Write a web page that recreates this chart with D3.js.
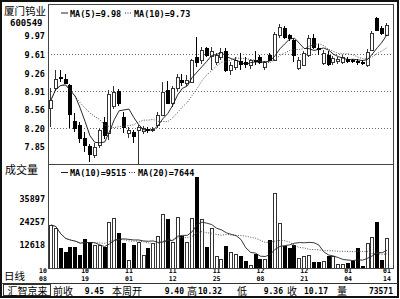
<!DOCTYPE html>
<html>
<head>
<meta charset="utf-8">
<script src="https://cdn.jsdelivr.net/npm/d3@7"></script>
<style>
  html, body { margin: 0; padding: 0; background: #fff; }
  svg { display: block; }
  .num { font-family: "DejaVu Sans Mono", monospace; font-weight: bold; }
  .cjk { font-family: "Noto Sans CJK SC", sans-serif; }
</style>
</head>
<body>
<div id="chart"></div>
<script>
const stockName = "厦门钨业";
const stockCode = "600549";
const sourceName = "汇智京来";

const dateTicks = [0, 7, 16, 25, 34, 43, 52, 61, 69];
const dateLabels = ["10/08", "10/19", "11/01", "11/12", "11/25", "12/08", "12/21", "01/04", "01/14"];

const opens = [8.58, 8.95, 9.17, 9.13, 9.02, 8.33, 8.25, 8.00, 7.84, 7.68,
  7.86, 8.30, 8.10, 8.62, 8.90, 8.41, 8.10, 8.12, 8.15, 8.14,
  8.18, 8.17, 8.25, 8.45, 8.92, 8.68, 8.95, 9.12, 9.05, 9.08,
  9.55, 9.50, 9.72, 9.57, 9.46, 9.56, 9.67, 9.30, 9.37, 9.47,
  9.45, 9.40, 9.50, 9.55, 9.36, 9.59, 9.50, 9.97, 10.11, 9.97,
  9.88, 9.34, 9.40, 9.59, 9.92, 9.72, 9.44, 9.60, 9.45, 9.47,
  9.46, 9.52, 9.50, 9.48, 9.46, 9.40, 9.69, 10.30, 10.11, 9.97];
const highs = [8.96, 9.30, 9.30, 9.23, 9.04, 8.48, 8.31, 8.12, 7.88, 7.90,
  8.18, 8.40, 8.92, 9.00, 8.93, 8.50, 8.22, 8.16, 8.25, 8.23,
  8.22, 8.21, 8.50, 9.08, 9.10, 9.00, 9.22, 9.22, 9.20, 9.52,
  9.94, 9.74, 9.75, 9.75, 9.62, 9.72, 9.72, 9.46, 9.55, 9.62,
  9.55, 9.52, 9.66, 9.60, 9.48, 9.62, 10.04, 10.18, 10.14, 10.00,
  9.90, 9.55, 9.66, 9.97, 10.00, 9.80, 9.68, 9.66, 9.58, 9.55,
  9.60, 9.55, 9.52, 9.52, 9.50, 9.70, 10.05, 10.32, 10.14, 10.20];
const lows = [8.21, 8.90, 9.08, 9.04, 8.19, 8.12, 7.90, 7.74, 7.55, 7.61,
  7.80, 7.98, 7.96, 8.55, 8.62, 8.10, 8.00, 7.90, 7.40, 8.08,
  8.10, 8.12, 8.20, 8.42, 8.65, 8.60, 8.90, 9.00, 9.00, 9.05,
  9.37, 9.42, 9.55, 9.30, 9.40, 9.50, 9.26, 9.21, 9.30, 9.30,
  9.35, 9.33, 9.40, 9.42, 9.30, 9.47, 9.48, 9.92, 9.90, 9.85,
  9.45, 9.30, 9.38, 9.55, 9.70, 9.60, 9.40, 9.38, 9.40, 9.42,
  9.42, 9.44, 9.44, 9.40, 9.40, 9.36, 9.66, 10.05, 9.98, 9.95];
const closes = [8.73, 9.14, 9.15, 9.05, 8.47, 8.19, 8.00, 7.87, 7.70, 7.83,
  8.15, 8.06, 8.84, 8.89, 8.68, 8.22, 8.15, 8.03, 8.21, 8.19,
  8.17, 8.18, 8.45, 8.88, 8.68, 8.95, 9.17, 9.08, 9.11, 9.50,
  9.46, 9.69, 9.59, 9.67, 9.59, 9.65, 9.30, 9.40, 9.50, 9.42,
  9.42, 9.49, 9.47, 9.46, 9.46, 9.50, 9.99, 10.13, 9.94, 9.92,
  9.59, 9.50, 9.63, 9.92, 9.75, 9.70, 9.63, 9.42, 9.53, 9.52,
  9.55, 9.48, 9.47, 9.47, 9.45, 9.65, 10.01, 10.07, 10.01, 10.17];
const volumes = [22300, 20700, 10500, 8500, 11300, 11300, 7100, 15200, 13800, 12100,
  12100, 11300, 23900, 25700, 18400, 13000, 4600, 12100, 13800, 7100,
  10500, 13000, 16500, 27700, 25100, 13500, 26500, 16700, 13800, 25700,
  46700, 25100, 11300, 20600, 6700, 5100, 11800, 8500, 7400, 6700,
  4000, 2000, 7600, 5100, 5100, 14700, 38300, 23100, 11800, 10500,
  12200, 5400, 6700, 6900, 3400, 3400, 3800, 6830, 6700, 2400,
  2400, 2900, 4000, 10579, 1700, 13000, 16400, 23900, 4600, 15671];

// first day of the current week, for the bottom info bar
const weekStart = 65;

const priceTicks = [9.97, 9.61, 9.26, 8.91, 8.56, 8.20, 7.85];
const priceGrid = [9.61, 8.91, 8.20];
const volumeTicks = [35897, 24257, 12618];

function movingAverage(values, period) {
  return values.map((d, i) => d3.mean(values.slice(Math.max(0, i - period + 1), i + 1)));
}

class KLineChart {
  constructor(selector) {
    this.width = 400;
    this.height = 299;
    this.plot = { left: 48, right: 393, top: 5, split: 164, bottom: 268 };

    this.svg = d3
      .select(selector)
      .append("svg")
      .attr("width", this.width)
      .attr("height", this.height)
      .attr("viewBox", `0 0 ${this.width} ${this.height}`);

    this.x = d3.scaleLinear().domain([0, closes.length - 1]).range([51, 387]);
    this.y = d3.scaleLinear().domain([8.2, 9.61]).range([127.6, 54]);
    this.vy = d3.scaleLinear().domain([0, 35897]).range([269, 198.1]);

    this.data = closes.map((c, i) => ({
      i,
      o: opens[i],
      h: highs[i],
      l: lows[i],
      c,
      v: volumes[i],
    }));

    this.svg.append("rect").attr("width", this.width).attr("height", this.height).attr("fill", "#fff");

    let p = this.plot;
    let defs = this.svg.append("defs");
    defs.append("clipPath").attr("id", "price-clip").append("rect")
      .attr("x", p.left).attr("y", p.top).attr("width", p.right - p.left).attr("height", p.split - p.top);
    defs.append("clipPath").attr("id", "vol-clip").append("rect")
      .attr("x", p.left).attr("y", p.split).attr("width", p.right - p.left).attr("height", p.bottom - p.split);
  }

  render() {
    this.renderGrid();
    this.renderCandles();
    this.renderVolume();
    this.renderAxes();
    this.renderFrame();
    this.renderLegends();
    this.renderInfoBar();
  }

  renderGrid() {
    let p = this.plot;
    this.svg
      .append("g")
      .selectAll("line")
      .data(priceGrid)
      .join("line")
      .attr("x1", p.left)
      .attr("x2", p.right)
      .attr("y1", (d) => Math.round(this.y(d)) + 0.5)
      .attr("y2", (d) => Math.round(this.y(d)) + 0.5)
      .attr("stroke", "#666")
      .attr("stroke-dasharray", "1,2");
  }

  drawBars(g, data, top, bottom) {
    let x = this.x;
    let isUp = (d) => d.c >= d.o;
    g.selectAll("rect")
      .data(data)
      .join("rect")
      .attr("x", (d) => Math.round(x(d.i)) - 1.5)
      .attr("y", (d) => Math.round(top(d)) + 0.5)
      .attr("width", 3)
      .attr("height", (d) => Math.max(1, Math.round(bottom(d)) - Math.round(top(d))))
      .attr("fill", (d) => (isUp(d) ? "#fff" : "#000"))
      .attr("stroke", (d) => (isUp(d) ? "#333" : "#000"));
  }

  renderCandles() {
    let x = this.x;
    let y = this.y;
    let g = this.svg.append("g").attr("clip-path", "url(#price-clip)");
    let crisp = g.append("g").attr("shape-rendering", "crispEdges");

    crisp
      .selectAll("line")
      .data(this.data)
      .join("line")
      .attr("x1", (d) => Math.round(x(d.i)) - 0.5)
      .attr("x2", (d) => Math.round(x(d.i)) - 0.5)
      .attr("y1", (d) => y(d.h))
      .attr("y2", (d) => y(d.l))
      .attr("stroke", (d) => (d.c >= d.o ? "#333" : "#000"));

    this.drawBars(
      crisp.append("g"),
      this.data,
      (d) => y(Math.max(d.o, d.c)),
      (d) => y(Math.min(d.o, d.c))
    );

    let ma5 = movingAverage(closes, 5);
    let ma10 = movingAverage(closes, 10);
    let line = d3.line().x((d, i) => x(i)).y((d) => y(d));

    g.append("path").attr("d", line(ma10)).attr("fill", "none")
      .attr("stroke", "#555").attr("stroke-dasharray", "1,1.5");
    g.append("path").attr("d", line(ma5)).attr("fill", "none")
      .attr("stroke", "#111").attr("stroke-width", 0.9);

    this.ma5 = ma5;
    this.ma10 = ma10;
  }

  renderVolume() {
    let x = this.x;
    let vy = this.vy;
    let p = this.plot;
    let g = this.svg.append("g").attr("clip-path", "url(#vol-clip)");

    this.drawBars(
      g.append("g").attr("shape-rendering", "crispEdges"),
      this.data,
      (d) => vy(d.v),
      () => p.bottom
    );

    let vma10 = movingAverage(volumes, 10);
    let vma20 = movingAverage(volumes, 20);
    let line = d3.line().x((d, i) => x(i)).y((d) => vy(d));

    g.append("path").attr("d", line(vma20)).attr("fill", "none")
      .attr("stroke", "#555").attr("stroke-dasharray", "1,1.5");
    g.append("path").attr("d", line(vma10)).attr("fill", "none")
      .attr("stroke", "#222").attr("stroke-width", 0.9);

    this.vma10 = vma10;
    this.vma20 = vma20;
  }

  styleAxis(axis) {
    axis.attr("font-family", null).attr("font-size", null);
    axis.select(".domain").remove();
    axis.selectAll("text").attr("class", "num").style("font-size", "8.5px").attr("fill", "#000");
  }

  renderAxes() {
    let priceAxis = this.svg
      .append("g")
      .attr("transform", "translate(45,1)")
      .call(d3.axisLeft(this.y).tickValues(priceTicks).tickSize(0).tickPadding(0).tickFormat(d3.format(".2f")));
    this.styleAxis(priceAxis);

    let volAxis = this.svg
      .append("g")
      .attr("transform", "translate(45,1)")
      .call(d3.axisLeft(this.vy).tickValues(volumeTicks).tickSize(0).tickPadding(0).tickFormat((d) => d));
    this.styleAxis(volAxis);

    // two-line date labels under the volume panel (month above, day below)
    let labelX = (d, i) => this.x(d) - (i === 0 ? 8 : 0);
    let dates = this.svg.append("g").attr("class", "num").style("font-size", "6.5px").attr("text-anchor", "middle");
    dates.selectAll("text.month").data(dateTicks).join("text").attr("class", "month")
      .attr("x", labelX).attr("y", 273).text((d, i) => dateLabels[i].split("/")[0]);
    dates.selectAll("text.day").data(dateTicks).join("text").attr("class", "day")
      .attr("x", labelX).attr("y", 281).text((d, i) => dateLabels[i].split("/")[1]);

    this.svg.append("text").attr("class", "cjk").style("font-size", "10.5px")
      .attr("x", 4).attr("y", 279.5).text("日线");
    this.svg.append("text").attr("class", "cjk").style("font-size", "10.5px")
      .attr("x", 4).attr("y", 14.5).text(stockName);
    this.svg.append("text").attr("class", "num").style("font-size", "9px")
      .attr("x", 10).attr("y", 25.5).text(stockCode);
    this.svg.append("text").attr("class", "cjk").style("font-size", "11px")
      .attr("x", 5).attr("y", 174).text("成交量");
  }

  renderFrame() {
    let p = this.plot;
    let frame = this.svg.append("g").attr("fill", "none").attr("shape-rendering", "crispEdges");
    frame.append("rect").attr("x", 1).attr("y", 1).attr("width", 397).attr("height", 296)
      .attr("stroke", "#111").attr("stroke-width", 2);
    frame.append("rect").attr("x", p.left + 0.5).attr("y", p.top - 0.5)
      .attr("width", p.right - p.left).attr("height", p.bottom - p.top + 0.5)
      .attr("stroke", "#444");
    frame.append("line").attr("x1", p.left).attr("x2", p.right)
      .attr("y1", p.split + 0.5).attr("y2", p.split + 0.5).attr("stroke", "#444");
    frame.append("line").attr("x1", 1).attr("x2", 398).attr("y1", 283.5).attr("y2", 283.5).attr("stroke", "#333");
    frame.append("rect").attr("x", 3.5).attr("y", 284.5).attr("width", 47).attr("height", 11).attr("stroke", "#333");
  }

  legend(y, items) {
    let g = this.svg.append("g");
    items.forEach((item) => {
      g.append("line")
        .attr("x1", item.x - 9).attr("x2", item.x - 2)
        .attr("y1", y - 3.5).attr("y2", y - 3.5)
        .attr("stroke", "#222")
        .attr("stroke-dasharray", item.dotted ? "1,1.5" : null);
      g.append("text").attr("class", "num").style("font-size", "8.5px")
        .attr("x", item.x).attr("y", y).text(item.text);
    });
  }

  renderLegends() {
    let last = closes.length - 1;
    this.legend(16.5, [
      { x: 70, text: `MA(5)=${this.ma5[last].toFixed(2)}`, dotted: false },
      { x: 134, text: `MA(10)=${this.ma10[last].toFixed(2)}`, dotted: true },
    ]);
    this.legend(176, [
      { x: 70, text: `MA(10)=${Math.round(this.vma10[last])}`, dotted: false },
      { x: 138, text: `MA(20)=${Math.round(this.vma20[last])}`, dotted: true },
    ]);
  }

  renderInfoBar() {
    let last = closes.length - 1;
    let week = d3.range(weekStart, last + 1);
    let items = [
      { name: "前收", value: closes[weekStart - 1].toFixed(2) },
      { name: "本周开", value: opens[weekStart].toFixed(2) },
      { name: "高", value: d3.max(week, (i) => highs[i]).toFixed(2) },
      { name: "低", value: d3.min(week, (i) => lows[i]).toFixed(2) },
      { name: "收", value: closes[last].toFixed(2) },
      { name: "量", value: String(d3.sum(week, (i) => volumes[i])) },
    ];
    let nameX = [53, 112, 187, 237, 287, 337];
    let valueX = [104, 184, 222, 283, 328, 393];

    let g = this.svg.append("g");
    g.append("text").attr("class", "cjk").style("font-size", "10px")
      .attr("x", 7.5).attr("y", 294.5).text(sourceName);
    g.selectAll("text.name").data(items).join("text").attr("class", "cjk name")
      .style("font-size", "10px").attr("x", (d, i) => nameX[i]).attr("y", 294.5).text((d) => d.name);
    g.selectAll("text.value").data(items).join("text").attr("class", "num value")
      .style("font-size", "8px").attr("text-anchor", "end")
      .attr("x", (d, i) => valueX[i]).attr("y", 293.5).text((d) => d.value);
  }
}

new KLineChart("#chart").render();
</script>
</body>
</html>
